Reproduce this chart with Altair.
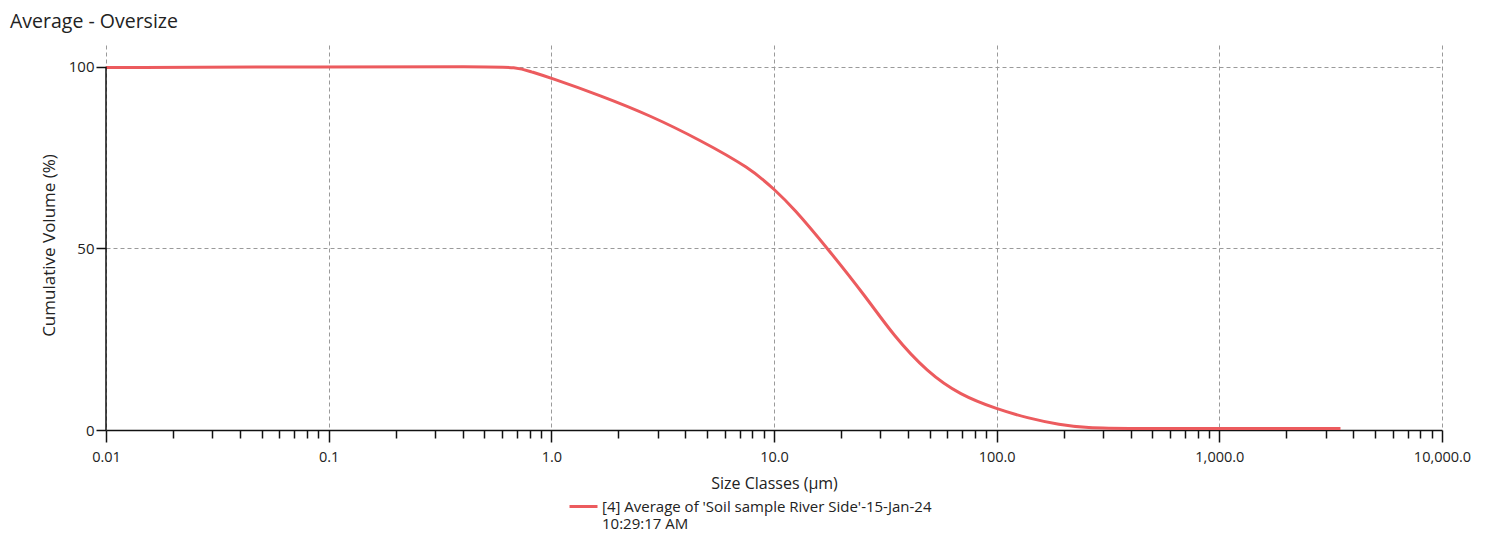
import altair as alt
import pandas as pd

size_um = [0.01, 0.1, 0.5, 0.7, 0.805, 0.99, 1.66, 2.78, 4.67, 7.82, 10.1, 12.2,
           17.4, 26.2, 34.3, 48.8, 68.7, 100.0, 137.0, 193.0, 250.0, 400.0,
           1000.0, 3500.0]
cum_volume = [99.8, 100.0, 100.0, 99.9, 98.7, 97.0, 92.1, 86.6, 79.8, 72.1, 66.1,
              61.2, 50.0, 36.2, 26.1, 15.9, 9.6, 5.8, 3.3, 1.4, 0.6, 0.4, 0.4, 0.4]
series_name = "[4] Average of 'Soil sample River Side'-15-Jan-24\n10:29:17 AM"

major_ticks = [0.01, 0.1, 1, 10, 100, 1000, 10000]
minor_ticks = [m * d for d in [0.01, 0.1, 1, 10, 100, 1000] for m in range(2, 10)]
y_ticks = [0, 50, 100]

df = pd.DataFrame({"size": size_um, "vol": cum_volume, "series": series_name})
axis_df = pd.DataFrame({"x": [0.01], "y0": [0], "y1": [100]})

FONT = "Open Sans"
RED = "#EC5B5E"
TXT = "#222"

xscale = alt.Scale(type="log", domain=[0.01, 10000], nice=False)
yscale = alt.Scale(domain=[0, 106], nice=False)

line = alt.Chart(df).mark_line(strokeWidth=3, interpolate="basis").encode(
    x=alt.X("size:Q", scale=xscale,
            axis=alt.Axis(values=major_ticks, orient="bottom", title="Size Classes (µm)",
                          labelExpr="datum.value < 0.05 ? '0.01' : format(datum.value, ',.1f')",
                          tickSize=12, tickColor="#111", tickWidth=1.5,
                          domainColor="#111", domainWidth=1.5,
                          grid=True, gridDash=[4, 3], gridColor="#9a9a9a",
                          labelFont=FONT, labelFontSize=14.5, labelColor=TXT,
                          labelPadding=8, labelFlush=False,
                          titleFont=FONT, titleFontSize=16, titleFontWeight="normal",
                          titleColor=TXT, titleY=53, titleBaseline="middle")),
    y=alt.Y("vol:Q", scale=yscale,
            axis=alt.Axis(values=y_ticks, title="Cumulative Volume (%)", domain=False,
                          tickSize=10, tickColor="#111", tickWidth=1.5,
                          grid=True, gridDash=[4, 3], gridColor="#9a9a9a",
                          labelFont=FONT, labelFontSize=15, labelColor=TXT,
                          labelPadding=2, titleFont=FONT, titleFontSize=17,
                          titleFontWeight="normal", titleColor=TXT,
                          titleX=-57, titleY=200, titleAngle=270,
                          titleBaseline="middle", titleAlign="center")),
    color=alt.Color("series:N", scale=alt.Scale(range=[RED]),
                    legend=alt.Legend(title=None, orient="none", legendX=462, legendY=446,
                                      symbolType="stroke", symbolStrokeWidth=3,
                                      symbolSize=784, labelFont=FONT, labelFontSize=15,
                                      labelColor=TXT, labelLimit=0, labelOffset=3,
                                      labelExpr="split(datum.label, '\\n')")),
)

yaxis_line = alt.Chart(axis_df).mark_rule(color="#111", strokeWidth=1.5).encode(
    x=alt.X("x:Q", scale=xscale,
            axis=alt.Axis(values=minor_ticks, orient="bottom", title=None, labels=False,
                          domain=False, grid=False, tickSize=8, tickColor="#111",
                          tickWidth=1.5)),
    y=alt.Y("y0:Q", scale=yscale),
    y2="y1:Q",
)

chart = alt.layer(line, yaxis_line).resolve_axis(x="independent").properties(
    width=1336, height=385,
    autosize=alt.AutoSizeParams(type="none"),
    padding={"left": 98, "top": 37, "right": 50, "bottom": 106},
    title=alt.TitleParams("Average - Oversize", anchor="start", frame="group", dx=-96,
                          offset=13, font=FONT, fontSize=19.5, fontWeight="normal",
                          color=TXT),
).configure_view(stroke=None)

chart.save("out.html", embed_options={"renderer": "svg", "actions": False})
